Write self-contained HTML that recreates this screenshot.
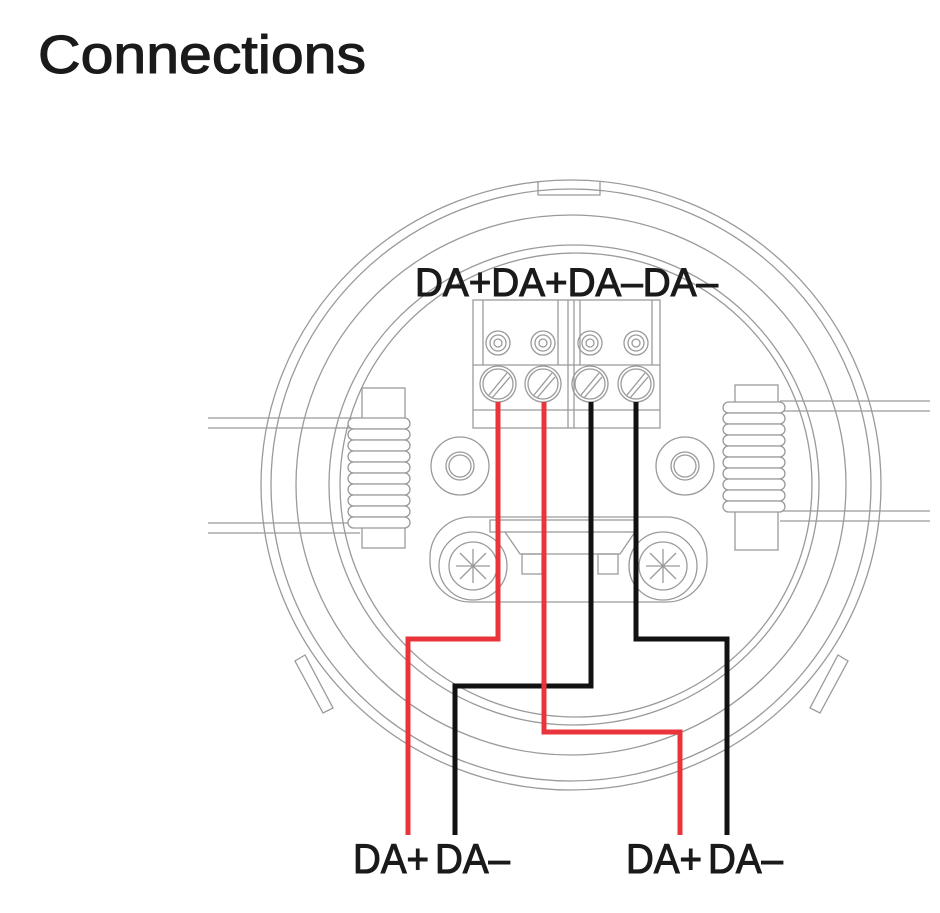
<!DOCTYPE html>
<html><head><meta charset="utf-8"><style>
html,body{margin:0;padding:0;background:#fff;}
svg{display:block;}
text{font-family:"Liberation Sans",sans-serif;fill:#1a1a1a;stroke:#1a1a1a;stroke-width:1.1;}
</style></head><body>
<svg width="940" height="913" viewBox="0 0 940 913" xmlns="http://www.w3.org/2000/svg">
<text x="38" y="73" font-size="54" textLength="328" lengthAdjust="spacingAndGlyphs">Connections</text>
<g fill="none" stroke="#9a9a9a" stroke-width="1.3">
  <ellipse cx="571" cy="485" rx="310" ry="305"/>
  <ellipse cx="571" cy="485" rx="300" ry="296"/>
  <ellipse cx="571" cy="485" rx="275" ry="270"/>
  <ellipse cx="574" cy="485" rx="245" ry="240"/>
  <ellipse cx="576" cy="485" rx="236" ry="232"/>
  <path d="M538 181 v14 h62 v-14"/>
  <path d="M305 655 l-10 6 l28 52 l10 -5 z"/>
  <path d="M838 655 l10 6 l-28 52 l-10 -5 z"/>
  <rect x="473" y="300" width="187" height="128" fill="#fff"/>
  <line x1="568" y1="300" x2="568" y2="428"/>
  <line x1="574" y1="300" x2="574" y2="428"/>
  <line x1="473" y1="365" x2="660" y2="365"/>
  <line x1="473" y1="410" x2="660" y2="410"/>
  <line x1="483" y1="300" x2="483" y2="365"/>
  <line x1="558" y1="300" x2="558" y2="365"/>
  <line x1="580" y1="300" x2="580" y2="365"/>
  <line x1="652" y1="300" x2="652" y2="365"/>
  <g id="t">
    <circle cx="498" cy="343" r="12"/><circle cx="498" cy="343" r="8"/><circle cx="498" cy="343" r="4"/>
    <circle cx="498" cy="384" r="18"/><circle cx="498" cy="384" r="15"/>
    <line x1="489" y1="395" x2="507" y2="373"/><line x1="492" y1="398" x2="510" y2="377"/>
  </g>
  <use href="#t" x="45"/><use href="#t" x="92"/><use href="#t" x="138"/>
  <circle cx="460" cy="466" r="29"/><circle cx="460" cy="466" r="14"/><circle cx="460" cy="466" r="11"/>
  <circle cx="685" cy="466" r="29"/><circle cx="685" cy="466" r="14"/><circle cx="685" cy="466" r="11"/>
  <rect x="430" y="517" width="277" height="85" rx="40"/>
  <rect x="490" y="520" width="145" height="12"/>
  <path d="M505 532 l15 22 h100 l15 -22"/>
  <rect x="522" y="554" width="20" height="20"/><rect x="598" y="554" width="20" height="20"/>
  <circle cx="473" cy="566" r="34"/><circle cx="473" cy="566" r="24"/>
  <circle cx="663" cy="566" r="34"/><circle cx="663" cy="566" r="24"/>
  <path d="M460 553 l26 26 M486 553 l-26 26 M473 549 v34 M456 566 h34"/>
  <path d="M650 553 l26 26 M676 553 l-26 26 M663 549 v34 M646 566 h34"/>
  <rect x="362" y="388" width="43" height="160" fill="#fff"/>
  <line x1="208" y1="418" x2="360" y2="418"/><line x1="208" y1="428" x2="360" y2="428"/>
  <line x1="208" y1="523" x2="360" y2="523"/><line x1="208" y1="533" x2="360" y2="533"/>
  <g fill="#fff">
    <rect x="348" y="418" width="62" height="11" rx="5.5"/><rect x="348" y="429" width="62" height="11" rx="5.5"/>
    <rect x="348" y="440" width="62" height="11" rx="5.5"/><rect x="348" y="451" width="62" height="11" rx="5.5"/>
    <rect x="348" y="462" width="62" height="11" rx="5.5"/><rect x="348" y="473" width="62" height="11" rx="5.5"/>
    <rect x="348" y="484" width="62" height="11" rx="5.5"/><rect x="348" y="495" width="62" height="11" rx="5.5"/>
    <rect x="348" y="506" width="62" height="11" rx="5.5"/><rect x="348" y="517" width="62" height="11" rx="5.5"/>
  </g>
  <rect x="735" y="385" width="43" height="165" fill="#fff"/>
  <line x1="780" y1="401" x2="930" y2="401"/><line x1="780" y1="411" x2="930" y2="411"/>
  <line x1="780" y1="511" x2="930" y2="511"/><line x1="780" y1="521" x2="930" y2="521"/>
  <g fill="#fff">
    <rect x="723" y="402" width="62" height="11" rx="5.5"/><rect x="723" y="413" width="62" height="11" rx="5.5"/>
    <rect x="723" y="424" width="62" height="11" rx="5.5"/><rect x="723" y="435" width="62" height="11" rx="5.5"/>
    <rect x="723" y="446" width="62" height="11" rx="5.5"/><rect x="723" y="457" width="62" height="11" rx="5.5"/>
    <rect x="723" y="468" width="62" height="11" rx="5.5"/><rect x="723" y="479" width="62" height="11" rx="5.5"/>
    <rect x="723" y="490" width="62" height="11" rx="5.5"/><rect x="723" y="501" width="62" height="11" rx="5.5"/>
  </g>
</g>
<g fill="none" stroke-width="5" stroke-linejoin="miter">
  <polyline stroke="#e8343a" points="498,402 498,639 408,639 408,835"/>
  <polyline stroke="#111" points="591,402 591,686 455,686 455,835"/>
  <polyline stroke="#e8343a" points="544,402 544,732 680,732 680,835"/>
  <polyline stroke="#111" points="636,402 636,639 727,639 727,835"/>
</g>
<text x="415" y="296" font-size="40" textLength="303" lengthAdjust="spacingAndGlyphs">DA+DA+DA–DA–</text>
<text x="353" y="873" font-size="42" textLength="76" lengthAdjust="spacingAndGlyphs">DA+</text>
<text x="435" y="873" font-size="42" textLength="75" lengthAdjust="spacingAndGlyphs">DA–</text>
<text x="626" y="873" font-size="42" textLength="76" lengthAdjust="spacingAndGlyphs">DA+</text>
<text x="708" y="873" font-size="42" textLength="75" lengthAdjust="spacingAndGlyphs">DA–</text>
</svg>
</body></html>
